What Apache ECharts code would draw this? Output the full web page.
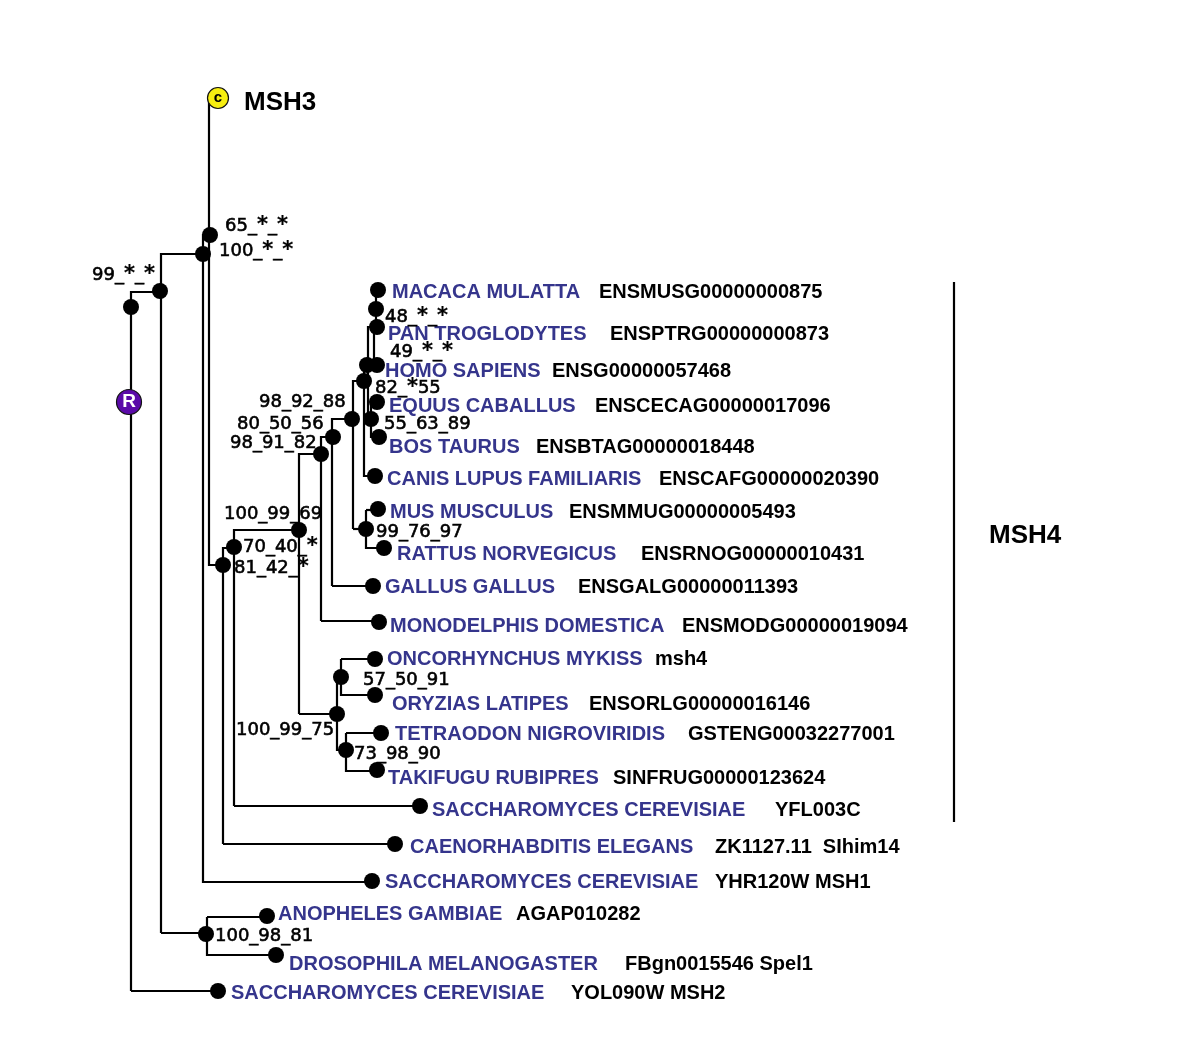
<!DOCTYPE html>
<html><head><meta charset="utf-8">
<style>html,body{margin:0;padding:0;background:#fff}#c{width:1200px;height:1056px}</style>
<script src="https://cdn.jsdelivr.net/npm/echarts@6/dist/echarts.min.js"></script>
</head><body><div id="c"></div>
<script>
const taxaNames = ["MACACA MULATTA","PAN TROGLODYTES","HOMO SAPIENS","EQUUS CABALLUS","BOS TAURUS","CANIS LUPUS FAMILIARIS","MUS MUSCULUS","RATTUS NORVEGICUS","GALLUS GALLUS","MONODELPHIS DOMESTICA","ONCORHYNCHUS MYKISS","ORYZIAS LATIPES","TETRAODON NIGROVIRIDIS","TAKIFUGU RUBIPRES","SACCHAROMYCES CEREVISIAE","CAENORHABDITIS ELEGANS","SACCHAROMYCES CEREVISIAE","ANOPHELES GAMBIAE","DROSOPHILA MELANOGASTER","SACCHAROMYCES CEREVISIAE"];
const taxaX = [392,388,385,389,389,387,390,397,385,390,387,392,395,388,432,410,385,278,289,231];
const taxaY = [292,334,371,406,447,479,512,554,587,626,659,704,734,778,810,847,882,914,964,993];
const accessions = ["ENSMUSG00000000875","ENSPTRG00000000873","ENSG00000057468","ENSCECAG00000017096","ENSBTAG00000018448","ENSCAFG00000020390","ENSMMUG00000005493","ENSRNOG00000010431","ENSGALG00000011393","ENSMODG00000019094","msh4","ENSORLG00000016146","GSTENG00032277001","SINFRUG00000123624","YFL003C","ZK1127.11  SIhim14","YHR120W MSH1","AGAP010282","FBgn0015546 Spel1","YOL090W MSH2"];
const accessionX = [599,610,552,595,536,659,569,641,578,682,655,589,688,613,775,715,715,516,625,571];
const leafNodes = [[378,290],[377,327],[377,365],[377,402],[379,437],[375,476],[378,509],[384,548],[373,586],[379,622],[375,659],[375,695],[381,733],[377,770],[420,806],[395,844],[372,881],[267,916],[276,955],[218,991]];
const innerNodes = [[131,307],[160,291],[203,254],[210,235],[223,565],[234,547],[299,530],[321,454],[333,437],[352,419],[364,381],[367,365],[376,309],[371,419],[366,529],[337,714],[341,677],[346,750],[206,934]];
const supportLabels = ["65_*_*","100_*_*","99_*_*","48_*_*","49_*_*","82_*55","98_92_88","55_63_89","80_50_56","98_91_82","100_99_69","99_76_97","70_40_*","81_42_*","57_50_91","100_99_75","73_98_90","100_98_81"];
const supportX = [225,219,92,385,390,375,259,384,237,230,224,376,243,234,363,236,354,215];
const supportY = [226,251,275,317,352,388,402,424,424,443,514,532,547,568,680,730,754,936];
const branches = [
 [[131,991],[218,991]], [[131,991],[131,292],[160,292]],
 [[161,933],[161,254],[203,254]], [[161,933],[206,933]],
 [[207,917],[267,917]], [[207,917],[207,955],[276,955]],
 [[203,254],[203,882],[372,882]], [[203,254],[203,235],[209,235]],
 [[209,98],[209,565],[223,565]], [[223,844],[223,548],[234,548]], [[223,844],[395,844]],
 [[234,806],[234,530],[299,530]], [[234,806],[420,806]],
 [[299,714],[299,454],[321,454]], [[299,714],[337,714]],
 [[321,621],[321,437],[333,437]], [[321,621],[379,621]],
 [[332,586],[332,419],[352,419]], [[332,586],[373,586]],
 [[353,529],[353,381],[364,381]], [[353,529],[366,529]],
 [[366,510],[378,510]], [[366,510],[366,548],[384,548]],
 [[364,381],[364,476],[375,476]],
 [[368,365],[368,419],[371,419]], [[371,402],[371,437],[379,437]], [[371,402],[377,402]],
 [[364,381],[364,365],[377,365]], [[368,365],[368,327],[376,327]], [[374,327],[374,365]],
 [[376,290],[376,327]],
 [[337,677],[337,750],[346,750]], [[337,677],[341,677]],
 [[341,659],[375,659]], [[341,659],[341,695],[375,695]],
 [[346,733],[381,733]], [[346,733],[346,771],[377,771]],
 [[954,282],[954,822]]
];
const groupLabels = ["MSH3","MSH4"];
const groupX = [244,989];
const groupY = [103,536];
const rootMarks = [[218,98,"c","#f7ee10","#000"],[129,402,"R","#5a0aa8","#fff"]];

const chart = echarts.init(document.getElementById('c'), null, {renderer:'canvas'});
const pts = (xs, ys, ts) => xs.map((x,i)=>({value:[x,ys[i]], name:ts[i]}));
const textSeries = (data, font, fmt) => ({
  type:'scatter', symbolSize:0, silent:true, z:5, data, itemStyle:{opacity:1},
  label:Object.assign({show:true, position:[0,0], align:'left', verticalAlign:'middle', opacity:1, formatter:fmt||(p=>p.name)}, font)
});
chart.setOption({
  animation:false, backgroundColor:'#fff',
  grid:{left:0,right:0,top:0,bottom:0},
  xAxis:{type:'value',min:0,max:1200,show:false},
  yAxis:{type:'value',min:0,max:1056,inverse:true,show:false},
  series:[
    {type:'lines', coordinateSystem:'cartesian2d', polyline:true, silent:true, z:1,
     lineStyle:{color:'#000',width:2.2,opacity:1},
     data:branches.map(c=>({coords:c}))},
    {type:'scatter', symbol:'circle', symbolSize:16, silent:true, z:3, itemStyle:{color:'#000',opacity:1}, data:leafNodes},
    {type:'scatter', symbol:'circle', symbolSize:16, silent:true, z:3, itemStyle:{color:'#000',opacity:1}, data:innerNodes},
    textSeries(pts(taxaX,taxaY,taxaNames), {fontFamily:'Liberation Sans',fontWeight:'bold',fontSize:20,color:'#35358c'}),
    textSeries(pts(accessionX,taxaY,accessions), {fontFamily:'Liberation Sans',fontWeight:'bold',fontSize:20,color:'#000'}),
    textSeries(pts(supportX,supportY,supportLabels), {fontFamily:'DejaVu Sans',fontSize:18,color:'#000',textBorderColor:'#000',textBorderWidth:0.6,
      rich:{s:{fontFamily:'DejaVu Sans',fontWeight:'bold',fontSize:21,color:'#000',textBorderColor:'#000',textBorderWidth:0.2}}},
      p=>p.name.replace(/\*/g,'{s|*}')),
    textSeries(pts(groupX,groupY,groupLabels), {fontFamily:'Liberation Sans',fontWeight:'bold',fontSize:26,color:'#000'}),
    {type:'scatter', symbol:'circle', silent:true, z:6,
     data:rootMarks.map(m=>({value:[m[0],m[1]], name:m[2], symbolSize:m[2]==='R'?25:21,
       itemStyle:{color:m[3],borderColor:'#111',borderWidth:1.2,opacity:1},
       label:{show:true,position:'inside',formatter:m[2],fontFamily:'Liberation Sans',fontWeight:'bold',fontSize:m[2]==='R'?19:15,color:m[4]}}))}
  ]
});
</script></body></html>
